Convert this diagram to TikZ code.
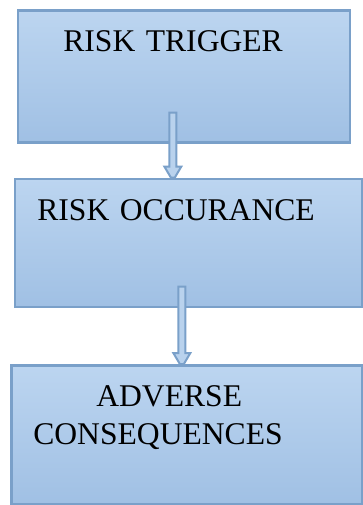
\documentclass[tikz,border=0pt]{standalone}
\usepackage{fontspec}
\setmainfont{Liberation Serif}
\usetikzlibrary{calc}
\definecolor{boxline}{HTML}{7AA0C9}
\definecolor{boxtop}{HTML}{BCD5F0}
\definecolor{boxbottom}{HTML}{A0C0E4}
\definecolor{arrowfill}{HTML}{B9D2ED}
\tikzset{
	riskbox/.style={draw=boxline, line width=2.7pt, top color=boxtop, bottom color=boxbottom, anchor=north west, inner ysep=0pt, align=left, font=\fontsize{31.6}{38}\selectfont},
	flowline/.style={draw=boxline, line width=2pt, fill=arrowfill, line join=miter}
}
\def\flowarrow(#1)(#2){\filldraw[flowline] ($(#1)+(-3.5,1)$) -- ($(#2)+(-3.5,-11)$) -- ($(#2)+(-8.5,-11)$) -- ($(#2)+(-2,0)$) -- ($(#2)+(2,0)$) -- ($(#2)+(8.5,-11)$) -- ($(#2)+(3.5,-11)$) -- ($(#1)+(3.5,1)$) -- cycle;}

\begin{document}
\begin{tikzpicture}[x=1pt, y=-1pt]
			%%%%% START %%%%%
			\useasboundingbox (0,0) rectangle (362,505);
			
			\node[riskbox, inner xsep=45.5pt, text width=241pt, text height=41pt, text depth=91pt] (trigger) at (16.5,9) {RISK TRIGGER};
			\node[riskbox, inner xsep=22.5pt, text width=302pt, text height=41.5pt, text depth=86.5pt] (occur) at (13.5,177.5) {RISK OCCURANCE};
			\node[riskbox, inner xsep=22pt, text width=307pt, text height=41pt, text depth=98pt] (adverse) at (10,364) {\hspace*{63pt}ADVERSE\\CONSEQUENCES};
			
			\coordinate (trigstart) at ($(trigger.south)+(-11,-32)$);
			\coordinate (trigtip) at (trigstart |- occur.north);
			\flowarrow(trigstart)(trigtip)
			
			\coordinate (occurstart) at ($(occur.south)+(-6.5,-22.5)$);
			\coordinate (occurtip) at (occurstart |- adverse.north);
			\flowarrow(occurstart)(occurtip)
			%%%%% END %%%%%
\end{tikzpicture}
\end{document}
